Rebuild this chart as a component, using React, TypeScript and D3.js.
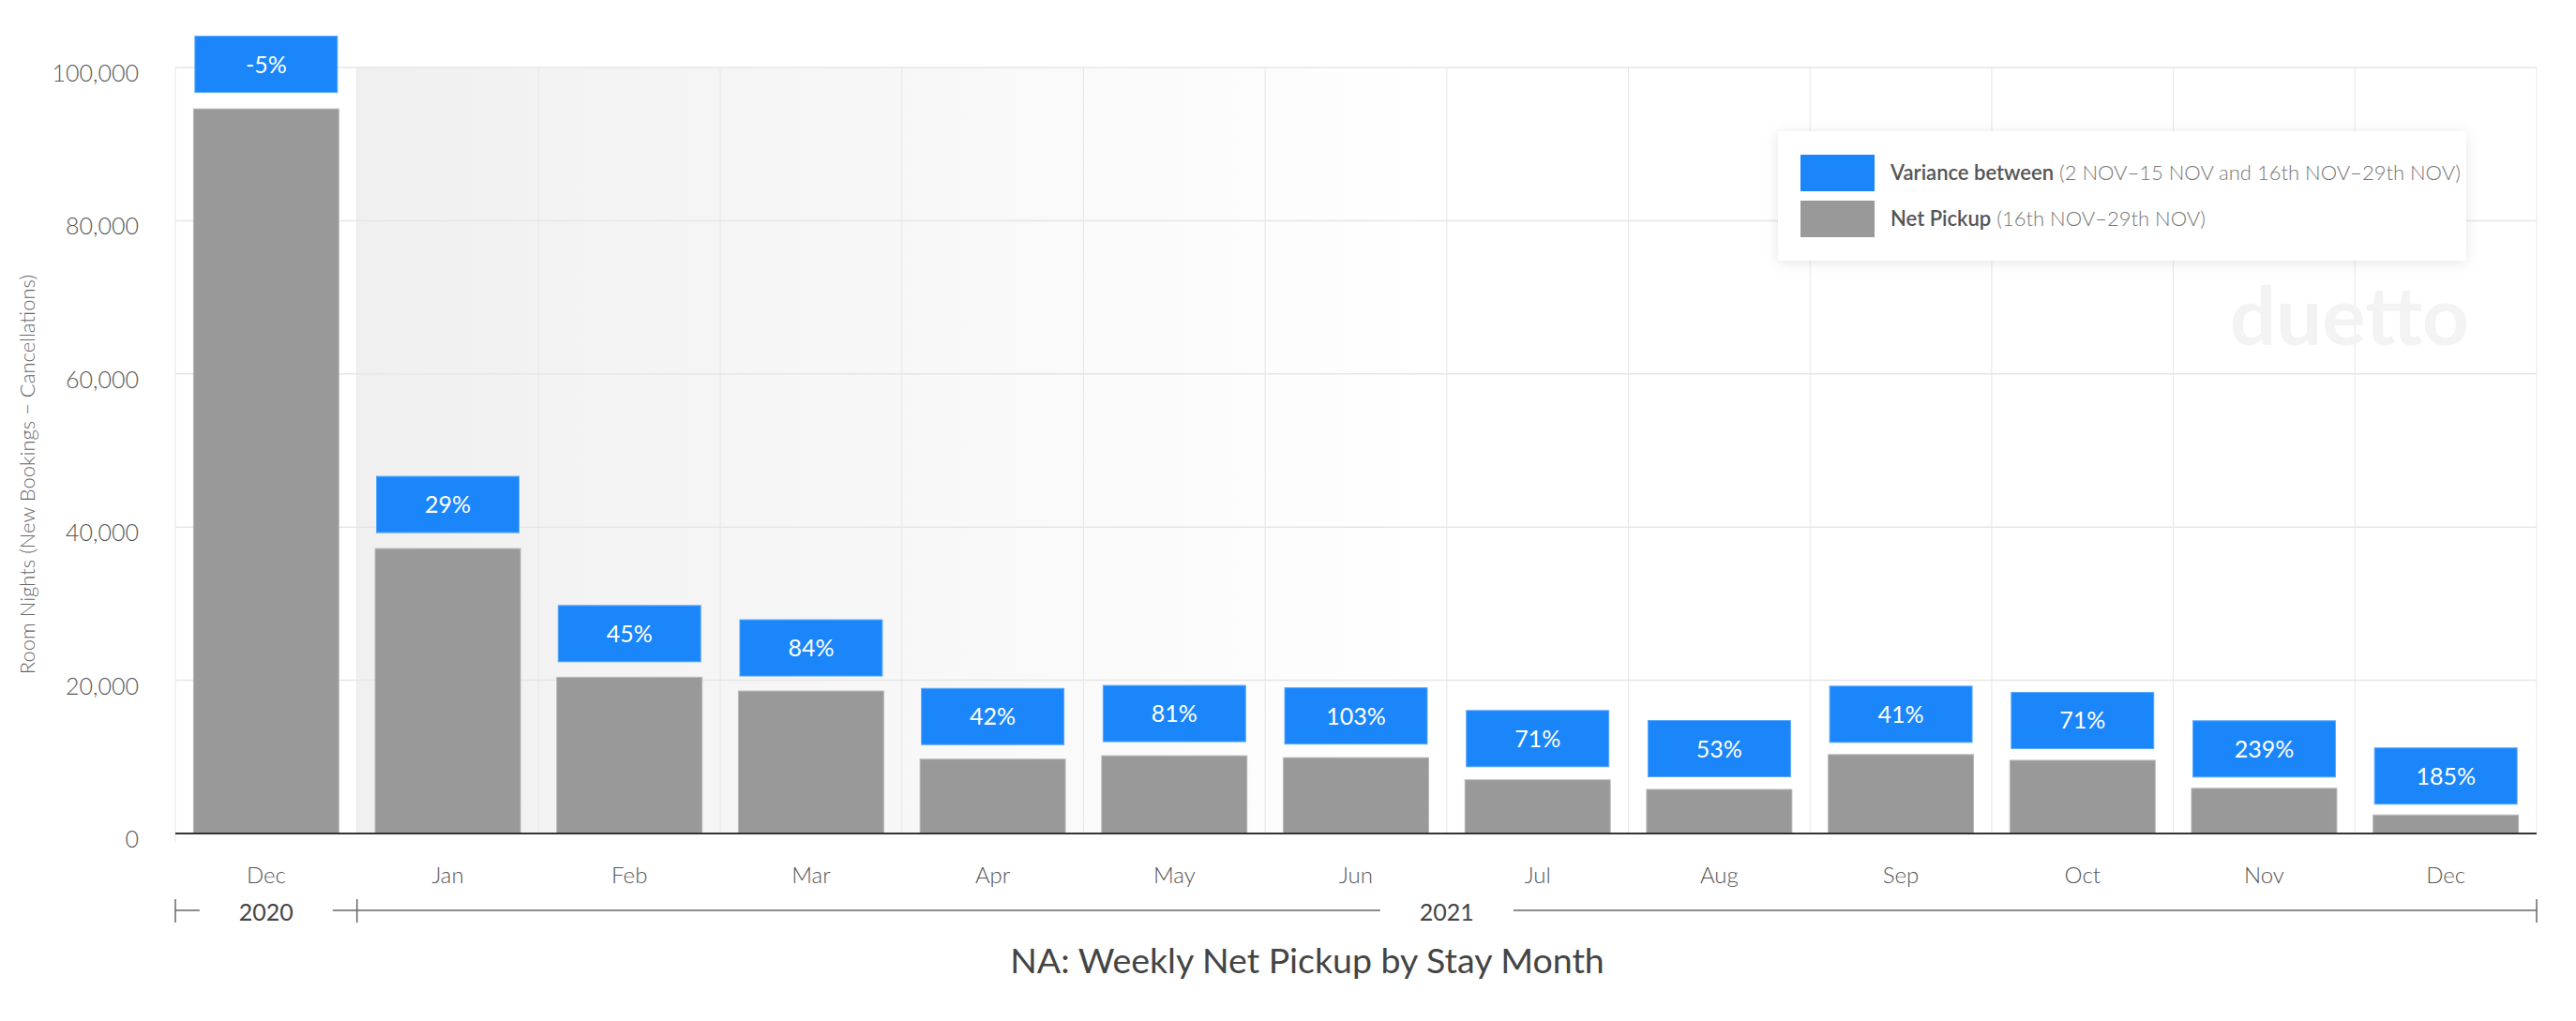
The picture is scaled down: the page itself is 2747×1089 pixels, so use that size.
import * as React from 'react';
import * as d3 from 'd3';

const months = ['Dec', 'Jan', 'Feb', 'Mar', 'Apr', 'May', 'Jun', 'Jul', 'Aug', 'Sep', 'Oct', 'Nov', 'Dec'];
const netPickup = [94600, 37200, 20400, 18600, 9700, 10150, 9900, 7000, 5750, 10300, 9550, 5900, 2420];
const variance = ['-5%', '29%', '45%', '84%', '42%', '81%', '103%', '71%', '53%', '41%', '71%', '239%', '185%'];
const yTicks = [0, 20000, 40000, 60000, 80000, 100000];
const years = [
    { label: '2020', from: 0, to: 0 },
    { label: '2021', from: 1, to: 12 },
];

const W = 2747;
const H = 1089;
const FONT = 'Lato, "Open Sans", sans-serif';

export default function App() {
    const ref = React.useRef<SVGSVGElement>(null);

    React.useEffect(() => {
        const svg = d3.select(ref.current);
        svg.selectAll('*').remove();

        const left = 187, right = 2705, top = 72, bottom = 889;

        const x = d3.scaleBand<number>()
            .domain(d3.range(months.length))
            .range([left, right])
            .paddingInner(0.2)
            .paddingOuter(0.1);
        const y = d3.scaleLinear().domain([0, 100000]).range([bottom, top]);
        const step = x.step();
        const edge = (i: number) => left + i * step;

        const defs = svg.append('defs');
        const grad = defs.append('linearGradient')
            .attr('id', 'band')
            .attr('x1', 0).attr('x2', 1).attr('y1', 0).attr('y2', 0);
        grad.append('stop').attr('offset', 0).attr('stop-color', '#f0f0f0');
        grad.append('stop').attr('offset', 0.5).attr('stop-color', '#ffffff');

        const shadow = defs.append('filter')
            .attr('id', 'shadow')
            .attr('x', '-10%').attr('y', '-30%').attr('width', '120%').attr('height', '160%');
        shadow.append('feDropShadow')
            .attr('dx', 0).attr('dy', 2).attr('stdDeviation', 7)
            .attr('flood-color', '#000').attr('flood-opacity', 0.1);

        // shaded band for the 2021 months
        svg.append('rect')
            .attr('x', edge(1)).attr('y', top)
            .attr('width', right - edge(1)).attr('height', bottom - top)
            .attr('fill', 'url(#band)');

        // grid
        svg.append('g').selectAll('line')
            .data(yTicks)
            .join('line')
            .attr('x1', left).attr('x2', right)
            .attr('y1', d => y(d)).attr('y2', d => y(d))
            .attr('stroke', '#e6e6e6').attr('stroke-width', 1.5);

        svg.append('g').selectAll('line')
            .data(d3.range(months.length + 1))
            .join('line')
            .attr('x1', d => edge(d)).attr('x2', d => edge(d))
            .attr('y1', top).attr('y2', d => d === 0 ? bottom + 10 : bottom)
            .attr('stroke', '#e6e6e6').attr('stroke-width', 1);

        // watermark
        svg.append('text')
            .attr('x', 2633).attr('y', 368)
            .attr('text-anchor', 'end')
            .attr('font-family', FONT).attr('font-weight', 700).attr('font-size', 87)
            .attr('fill', '#f3f3f3')
            .text('duetto');

        // y axis labels
        svg.append('g').selectAll('text')
            .data(yTicks)
            .join('text')
            .attr('x', 148).attr('y', d => y(d) + 15)
            .attr('text-anchor', 'end')
            .attr('font-family', FONT).attr('font-weight', 300).attr('font-size', 25)
            .attr('fill', '#555')
            .text(d => d3.format(',')(d));

        svg.append('text')
            .attr('transform', 'translate(37,506) rotate(-90)')
            .attr('text-anchor', 'middle')
            .attr('font-family', FONT).attr('font-weight', 300).attr('font-size', 22)
            .attr('fill', '#666')
            .text('Room Nights (New Bookings \u2212 Cancellations)');

        // bars
        svg.append('g').selectAll('rect')
            .data(netPickup)
            .join('rect')
            .attr('x', (d, i) => x(i)!)
            .attr('y', d => y(d))
            .attr('width', x.bandwidth())
            .attr('height', d => bottom - y(d))
            .attr('fill', '#999999')
            .attr('stroke', '#b8b8b8').attr('stroke-width', 1);

        // variance boxes (gap above the bar shrinks slightly to the right, as in the source)
        const boxH = 60;
        const gap = (i: number) => 17.5 - 0.5 * i;
        const boxes = svg.append('g').selectAll('g')
            .data(netPickup)
            .join('g')
            .attr('transform', (d, i) => `translate(${x(i)! + 1.5},${y(d) - gap(i) - boxH})`);
        boxes.append('rect')
            .attr('width', x.bandwidth() - 3).attr('height', boxH)
            .attr('fill', '#1a86fa')
            .attr('stroke', '#5aa8fb').attr('stroke-width', 1);
        boxes.append('text')
            .attr('x', (x.bandwidth() - 3) / 2).attr('y', 39)
            .attr('text-anchor', 'middle')
            .attr('font-family', FONT).attr('font-size', 25)
            .attr('fill', '#ffffff')
            .text((d, i) => variance[i]);

        // x axis
        svg.append('line')
            .attr('x1', left).attr('x2', right)
            .attr('y1', bottom).attr('y2', bottom)
            .attr('stroke', '#333').attr('stroke-width', 2);

        svg.append('g').selectAll('text')
            .data(months)
            .join('text')
            .attr('x', (d, i) => x(i)! + x.bandwidth() / 2)
            .attr('y', 942)
            .attr('text-anchor', 'middle')
            .attr('font-family', FONT).attr('font-weight', 300).attr('font-size', 24)
            .attr('fill', '#555')
            .text(d => d);

        // year grouping
        const lineY = 971, half = 71;
        const yr = svg.append('g');
        years.forEach(g => {
            const a = edge(g.from), b = edge(g.to + 1), c = (a + b) / 2;
            yr.append('line').attr('x1', a).attr('x2', c - half).attr('y1', lineY).attr('y2', lineY);
            yr.append('line').attr('x1', c + half).attr('x2', b).attr('y1', lineY).attr('y2', lineY);
            yr.append('text')
                .attr('x', c).attr('y', 982)
                .attr('text-anchor', 'middle')
                .attr('font-family', FONT).attr('font-size', 25)
                .attr('fill', '#444')
                .text(g.label);
        });
        [edge(0), edge(1), edge(months.length)].forEach(t => {
            yr.append('line').attr('x1', t).attr('x2', t).attr('y1', 959).attr('y2', 984);
        });
        yr.selectAll('line').attr('stroke', '#666').attr('stroke-width', 1.5);

        // legend
        const lg = svg.append('g');
        lg.append('rect')
            .attr('x', 1896).attr('y', 140).attr('width', 734).attr('height', 138)
            .attr('fill', '#fff').attr('filter', 'url(#shadow)');
        const items = [
            { color: '#1a86fa', bold: 'Variance between', rest: ' (2 NOV\u201315 NOV and 16th NOV\u201329th NOV)', y: 165 },
            { color: '#999999', bold: 'Net Pickup', rest: ' (16th NOV\u201329th NOV)', y: 214 },
        ];
        items.forEach(it => {
            lg.append('rect')
                .attr('x', 1920).attr('y', it.y).attr('width', 79).attr('height', 39)
                .attr('fill', it.color);
            const t = lg.append('text')
                .attr('x', 2016).attr('y', it.y + 27)
                .attr('font-family', FONT).attr('font-size', 22);
            t.append('tspan').attr('font-weight', 600).attr('fill', '#555').text(it.bold);
            t.append('tspan').attr('font-weight', 300).attr('fill', '#777').text(it.rest);
        });

        // title
        svg.append('text')
            .attr('x', 1394).attr('y', 1038)
            .attr('text-anchor', 'middle')
            .attr('font-family', FONT).attr('font-size', 37.5)
            .attr('fill', '#444')
            .text('NA: Weekly Net Pickup by Stay Month');
    }, []);

    return (
        <svg ref={ref} width={W} height={H}
            style={{ position: 'absolute', left: 0, top: 0, background: '#fff' }} />
    );
}
